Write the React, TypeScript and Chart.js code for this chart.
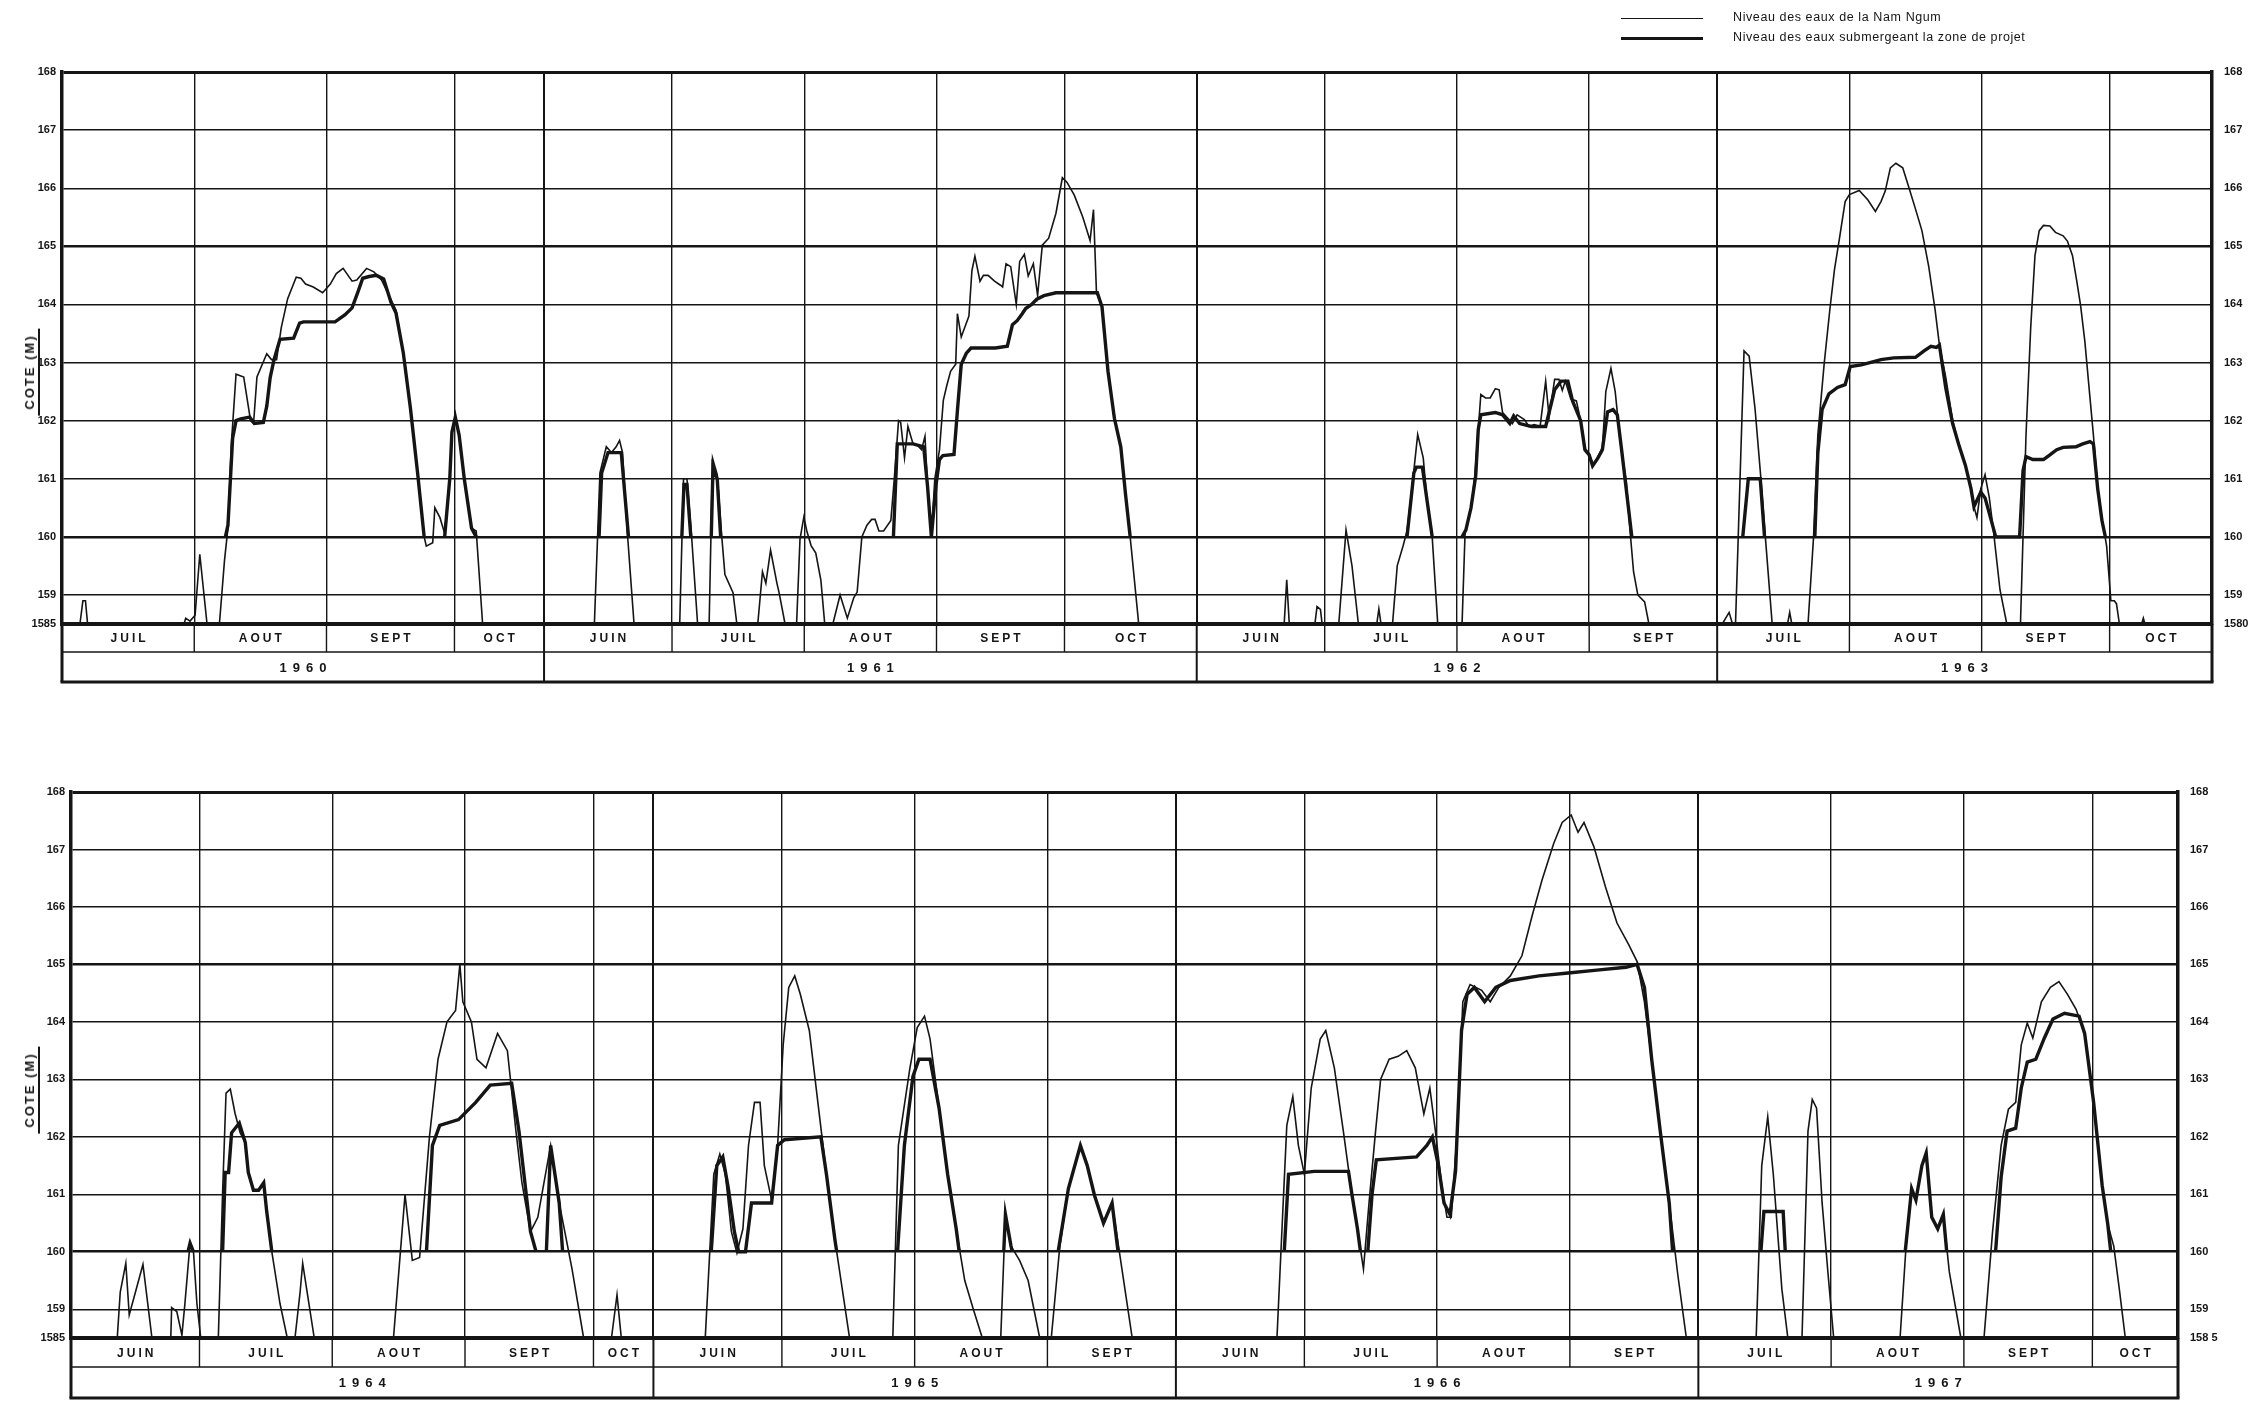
import { useEffect, useRef } from "react";
import { Chart, registerables } from "chart.js";
Chart.register(...registerables);

type P = [number, number] | null;
type M = [string, number];

// ---------- month spans (label, days shown) ----------
const months1960: M[] = [["JUIL", 31], ["AOUT", 31], ["SEPT", 30], ["OCT", 21]];
const months1961: M[] = [["JUIN", 30], ["JUIL", 31], ["AOUT", 31], ["SEPT", 30], ["OCT", 31]];
const months1962: M[] = [["JUIN", 30], ["JUIL", 31], ["AOUT", 31], ["SEPT", 30]];
const months1963: M[] = [["JUIL", 31], ["AOUT", 31], ["SEPT", 30], ["OCT", 24]];
const months1964: M[] = [["JUIN", 30], ["JUIL", 31], ["AOUT", 31], ["SEPT", 30], ["OCT", 14]];
const months1965: M[] = [["JUIN", 30], ["JUIL", 31], ["AOUT", 31], ["SEPT", 30]];
const months1966: M[] = [["JUIN", 30], ["JUIL", 31], ["AOUT", 31], ["SEPT", 30]];
const months1967: M[] = [["JUIL", 31], ["AOUT", 31], ["SEPT", 30], ["OCT", 20]];

// ---------- Niveau des eaux de la Nam Ngum (thin) : [day, cote] ----------
const thin1960: P[] = [[0,158.5],[4.2,158.5],[4.9,158.9],[5.5,158.9],[6.0,158.5],[28.6,158.5],[29.0,158.6],[30.0,158.55],[31.2,158.65],[32.3,159.7],[34.0,158.5],[36.9,158.5],[38.1,159.6],[38.9,160.15],[39.7,161.6],[40.8,162.8],[42.6,162.75],[44.2,162.0],[44.9,161.95],[45.7,162.75],[48.0,163.15],[49.1,163.05],[50.3,163.05],[51.4,163.6],[52.9,164.1],[54.9,164.47],[56.0,164.45],[57.1,164.35],[58.9,164.3],[61.1,164.2],[62.9,164.35],[64.3,164.53],[65.9,164.62],[68.0,164.4],[69.1,164.42],[71.4,164.62],[73.1,164.56],[74.9,164.42],[76.6,164.16],[78.3,163.9],[80.0,163.17],[81.7,162.2],[83.4,161.07],[84.9,160.0],[85.4,159.84],[86.9,159.9],[87.4,160.5],[88.6,160.33],[89.7,160.06],[90.9,161.0],[91.4,161.8],[92.2,162.06],[93.1,161.75],[94.3,161.0],[96.0,160.15],[97.1,160.1],[98.6,158.5]];
const thin1961: P[] = [[0,158.5],[11.8,158.5],[13.1,161.1],[14.6,161.55],[15.8,161.45],[16.9,161.55],[17.7,161.66],[18.4,161.45],[19.5,160.1],[21.1,158.5],[31.8,158.5],[32.7,161.0],[33.5,161.0],[34.5,160.1],[36.0,158.5],[38.7,158.5],[39.5,161.35],[40.6,161.07],[41.5,160.15],[42.4,159.35],[44.3,159.04],[45.2,158.5],[50.1,158.5],[51.2,159.4],[52.0,159.2],[53.1,159.77],[54.6,159.2],[55.1,159.04],[56.5,158.5],[59.2,158.5],[60.0,159.96],[60.9,160.34],[61.6,160.1],[62.6,159.85],[63.7,159.72],[64.9,159.25],[65.8,158.5],[67.7,158.5],[69.4,159.0],[71.1,158.6],[72.6,158.95],[73.4,159.05],[74.5,160.0],[75.7,160.2],[76.8,160.3],[77.6,160.3],[78.5,160.1],[79.6,160.1],[81.3,160.28],[82.1,161.0],[83.1,162.0],[83.6,161.97],[84.5,161.36],[85.3,161.9],[86.5,161.6],[87.6,161.57],[88.5,161.5],[89.3,161.73],[89.9,160.87],[90.8,160.0],[91.6,161.0],[92.7,161.5],[93.6,162.35],[94.4,162.6],[95.3,162.85],[96.5,162.97],[96.9,163.84],[97.8,163.44],[99.6,163.8],[100.3,164.58],[101.0,164.83],[102.2,164.4],[103.0,164.5],[104.1,164.5],[105.6,164.4],[107.0,164.33],[107.5,164.3],[108.3,164.7],[109.4,164.65],[110.7,164.0],[111.5,164.74],[112.6,164.86],[113.5,164.49],[114.7,164.7],[115.7,164.15],[116.8,165.02],[118.3,165.14],[120.0,165.57],[121.5,166.18],[122.6,166.1],[124.3,165.88],[126.3,165.5],[128.0,165.1],[128.8,165.63],[129.5,164.2],[130.8,163.96],[132.2,162.85],[133.7,162.04],[135.2,161.55],[136.3,160.74],[137.4,160.0],[139.4,158.5]];
const thin1962: P[] = [[0,158.5],[20.5,158.5],[21.1,159.26],[21.7,158.5],[27.7,158.5],[28.2,158.8],[29.0,158.75],[29.4,158.5],[33.3,158.5],[35.0,160.12],[36.4,159.5],[37.9,158.5],[42.2,158.5],[42.7,158.76],[43.2,158.5],[45.9,158.5],[47.0,159.5],[48.4,159.85],[49.3,160.1],[50.4,160.8],[51.8,161.76],[53.1,161.36],[54.0,160.62],[55.2,160.0],[56.5,158.5],[62.2,158.5],[62.9,160.06],[64.3,160.5],[65.2,161.05],[66.6,162.45],[67.7,162.39],[68.8,162.39],[70.0,162.55],[70.9,162.53],[71.7,162.14],[73.2,162.02],[74.0,161.95],[75.1,162.1],[76.8,162.02],[77.9,161.9],[79.1,161.93],[80.5,161.9],[81.8,162.68],[82.6,162.06],[83.9,162.71],[84.9,162.71],[85.7,162.52],[86.4,162.68],[87.7,162.37],[89.0,162.34],[90.0,162.0],[91.0,161.5],[91.8,161.44],[93.0,161.25],[94.0,161.37],[95.1,161.54],[95.9,162.5],[97.1,162.9],[98.1,162.5],[99.3,161.63],[100.7,160.95],[101.7,160.0],[102.4,159.4],[103.4,159.0],[105.0,158.88],[106.0,158.5]];
const thin1963: P[] = [[0,158.5],[1.2,158.5],[2.8,158.7],[3.6,158.5],[4.3,158.5],[6.3,163.2],[7.5,163.11],[8.9,162.19],[10.1,161.14],[11.4,159.9],[12.9,158.5],[16.5,158.5],[17.0,158.7],[17.5,158.5],[21.3,158.5],[22.6,160.0],[23.6,161.75],[25.1,162.99],[26.4,163.9],[27.5,164.6],[28.7,165.15],[30.0,165.77],[31.0,165.89],[33.3,165.96],[35.3,165.8],[37.1,165.6],[38.4,165.77],[39.4,165.95],[40.6,166.35],[41.9,166.43],[43.5,166.35],[45.0,166.0],[46.5,165.64],[48.0,165.27],[49.6,164.65],[51.1,163.9],[52.1,163.3],[53.6,162.74],[55.2,162.0],[56.7,161.57],[58.2,161.23],[59.5,160.83],[60.2,160.52],[60.9,160.33],[61.8,160.83],[62.8,161.07],[63.8,160.67],[64.8,160.08],[66.3,159.09],[67.9,158.5],[71.1,158.5],[71.7,160.0],[72.4,161.75],[73.5,163.6],[74.5,164.84],[75.5,165.27],[76.5,165.36],[78.0,165.35],[79.3,165.24],[81.1,165.18],[82.1,165.09],[83.3,164.84],[84.3,164.4],[85.2,163.98],[86.2,163.36],[87.2,162.55],[88.2,161.75],[89.2,160.83],[90.2,160.33],[91.3,159.84],[92.3,158.9],[93.1,158.9],[93.6,158.85],[94.3,158.5],[99.5,158.5],[99.9,158.6],[100.3,158.5]];
const thin1964: P[] = [[0,158.5],[10.8,158.5],[11.5,159.3],[12.8,159.8],[13.6,158.9],[16.8,159.78],[18.9,158.5],[23.3,158.5],[23.5,159.03],[24.7,158.96],[25.9,158.55],[26.6,159.1],[27.8,160.15],[28.6,160.0],[29.4,159.1],[30.3,158.5],[34.4,158.5],[35.4,161.03],[36.2,162.76],[37.2,162.83],[38.3,162.41],[39.5,162.07],[40.7,161.9],[41.4,161.38],[42.6,161.07],[43.8,161.07],[45.0,161.2],[45.7,160.7],[46.9,160.0],[48.8,159.1],[50.5,158.5],[52.3,158.5],[53.5,159.3],[54.1,159.8],[56.8,158.5],[75.3,158.5],[78.0,161.0],[79.7,159.85],[81.4,159.9],[83.7,162.0],[85.7,163.35],[87.8,164.0],[89.8,164.2],[90.8,165.0],[91.5,164.35],[93.5,164.0],[94.8,163.35],[96.9,163.2],[99.6,163.8],[101.9,163.5],[103.9,162.1],[105.3,161.2],[107.3,160.35],[109.0,160.6],[112.0,161.85],[114.0,160.85],[117.0,159.7],[119.7,158.5],[126.2,158.5],[127.5,159.25],[128.5,158.5]];
const thin1965: P[] = [[0,158.5],[12.1,158.5],[14.1,161.35],[15.5,161.7],[16.8,161.35],[18.2,160.35],[19.5,159.98],[20.9,160.4],[22.2,161.85],[23.6,162.6],[24.9,162.6],[25.9,161.5],[27.6,160.9],[29.0,161.85],[30.3,163.6],[31.6,164.6],[33.0,164.8],[34.3,164.48],[36.4,163.85],[38.4,162.6],[40.4,161.35],[42.4,160.2],[44.1,159.35],[45.8,158.5],[55.9,158.5],[57.2,161.85],[58.6,162.55],[59.9,163.2],[61.6,163.9],[63.3,164.1],[64.6,163.7],[66.7,162.5],[68.7,161.35],[70.7,160.4],[72.7,159.5],[74.7,159.0],[76.8,158.5],[81.1,158.5],[82.2,160.65],[83.5,160.1],[85.5,159.85],[87.5,159.5],[90.2,158.5],[92.9,158.5],[94.9,160.1],[96.9,161.1],[99.7,161.85],[101.3,161.5],[103.0,160.98],[105.1,160.5],[107.1,160.85],[109.1,159.85],[111.8,158.5]];
const thin1966: P[] = [[0,158.5],[23.6,158.5],[24.9,160.6],[25.9,162.2],[27.3,162.7],[28.6,161.85],[30.0,161.35],[31.6,162.85],[33.7,163.7],[35.0,163.85],[37.0,163.2],[39.1,162.1],[41.1,161.0],[42.4,160.4],[43.8,159.7],[45.1,160.85],[46.5,162.0],[47.8,163.0],[49.8,163.35],[51.9,163.4],[53.9,163.5],[55.9,163.2],[57.9,162.4],[59.3,162.85],[60.6,162.1],[62.0,161.2],[63.3,160.6],[64.3,160.6],[65.7,162.1],[67.0,164.35],[68.7,164.65],[71.4,164.55],[73.4,164.35],[75.4,164.6],[78.1,164.8],[80.8,165.15],[83.2,165.85],[85.5,166.47],[88.2,167.1],[90.2,167.47],[92.3,167.6],[93.9,167.3],[95.3,167.47],[97.6,167.05],[100.3,166.35],[103.0,165.72],[105.7,165.35],[107.7,165.05],[109.4,164.35],[111.1,163.35],[113.1,162.1],[115.2,160.85],[117.2,159.6],[119.2,158.5]];
const thin1967: P[] = [[0,158.5],[13.5,158.5],[14.8,161.5],[16.2,162.35],[17.5,161.35],[18.5,160.35],[19.5,159.35],[20.9,158.5],[24.2,158.5],[25.6,162.1],[26.6,162.65],[27.6,162.5],[28.9,160.85],[30.3,159.6],[31.6,158.5],[47.1,158.5],[48.5,160.1],[49.8,161.1],[50.8,160.9],[52.2,161.5],[53.2,161.72],[54.5,160.6],[55.9,160.4],[57.2,160.65],[58.6,159.65],[61.3,158.5],[66.7,158.5],[68.7,160.35],[70.7,161.85],[72.4,162.48],[74.1,162.6],[75.4,163.6],[76.8,163.98],[78.1,163.72],[80.1,164.35],[82.2,164.6],[84.2,164.7],[86.2,164.48],[88.2,164.22],[90.2,163.8],[92.3,162.6],[94.3,161.15],[95.6,160.48],[97.0,160.1],[98.3,159.35],[99.7,158.5]];

// ---------- Niveau des eaux submergeant la zone de projet (thick) ----------
const thick1960: P[] = [[38.3,160.0],[38.9,160.2],[40.0,161.7],[40.8,162.0],[41.9,162.03],[44.0,162.06],[45.1,161.95],[47.2,161.97],[48.0,162.25],[48.8,162.74],[49.7,163.05],[51.1,163.4],[54.3,163.42],[55.7,163.68],[56.6,163.7],[64.0,163.7],[66.3,163.82],[68.0,163.94],[69.4,164.22],[70.5,164.45],[72.0,164.48],[73.7,164.5],[75.4,164.44],[77.1,164.04],[78.3,163.85],[80.0,163.17],[81.7,162.2],[83.4,161.07],[84.9,160.0],null,[89.7,160.0],[90.9,161.0],[91.4,161.8],[92.2,162.06],[93.1,161.75],[94.3,161.0],[96.0,160.15],[97.1,160.0]];
const thick1961: P[] = [[12.9,160.0],[13.5,161.1],[15.0,161.45],[18.1,161.45],[19.8,160.0],null,[32.3,160.0],[32.8,160.9],[33.5,160.9],[34.4,160.0],null,[39.2,160.0],[39.6,161.2],[40.6,161.0],[41.4,160.0],null,[81.9,160.0],[82.8,161.6],[86.5,161.6],[89.0,161.55],[89.9,160.87],[90.8,160.0],[91.9,160.9],[92.7,161.33],[93.5,161.4],[96.1,161.42],[96.9,162.17],[97.8,162.97],[99.0,163.16],[100.1,163.25],[105.8,163.25],[108.6,163.28],[109.8,163.65],[110.9,163.72],[112.1,163.84],[112.9,163.93],[114.3,164.0],[115.5,164.09],[117.2,164.15],[120.0,164.2],[129.7,164.2],[130.8,163.96],[132.2,162.85],[133.7,162.04],[135.2,161.55],[136.3,160.74],[137.4,160.0]];
const thick1962: P[] = [[49.3,160.0],[50.9,161.1],[51.5,161.2],[52.9,161.2],[54.0,160.62],[55.2,160.0],null,[62.2,160.0],[63.1,160.12],[64.3,160.5],[65.4,161.05],[66.0,161.85],[66.6,162.1],[70.0,162.14],[71.7,162.1],[73.4,161.95],[74.3,162.08],[75.7,161.95],[77.4,161.92],[78.5,161.9],[81.8,161.9],[83.9,162.53],[85.4,162.68],[87.0,162.68],[88.1,162.34],[90.0,162.0],[91.0,161.5],[92.0,161.41],[92.8,161.22],[94.0,161.35],[95.1,161.5],[96.3,162.15],[97.6,162.19],[98.6,162.1],[99.6,161.5],[101.2,160.5],[102.0,160.0]];
const thick1963: P[] = [[6.0,160.0],[7.3,161.0],[10.1,161.0],[11.1,160.0],null,[22.9,160.0],[23.6,161.44],[24.6,162.19],[26.2,162.46],[28.2,162.57],[30.0,162.62],[31.2,162.93],[33.8,162.96],[35.8,163.0],[38.4,163.05],[41.4,163.08],[46.5,163.09],[48.5,163.2],[50.1,163.28],[51.4,163.26],[52.1,163.3],[53.6,162.56],[55.2,161.95],[56.7,161.57],[58.2,161.23],[59.5,160.83],[60.2,160.52],[61.8,160.77],[62.8,160.67],[64.3,160.27],[65.3,160.0],[70.9,160.0],[71.7,161.14],[72.4,161.38],[74.0,161.33],[76.5,161.33],[78.0,161.41],[79.6,161.5],[81.1,161.54],[84.1,161.55],[85.7,161.6],[87.4,161.64],[88.2,161.6],[89.2,160.83],[90.2,160.28],[91.0,160.0]];
const thick1964: P[] = [[27.3,160.0],[27.8,160.15],[28.6,160.0],null,[35.4,160.0],[36.0,161.38],[36.8,161.38],[37.5,162.07],[39.3,162.24],[40.7,161.9],[41.4,161.38],[42.6,161.07],[43.8,161.07],[45.0,161.2],[45.7,160.7],[46.9,160.0],null,[83.0,160.0],[84.4,161.85],[86.1,162.2],[90.5,162.3],[94.5,162.6],[97.9,162.9],[102.9,162.93],[104.6,162.1],[107.3,160.35],[108.6,160.0],null,[111.0,160.0],[112.0,161.85],[114.0,160.85],[114.8,160.0]];
const thick1965: P[] = [[13.5,160.0],[14.8,161.5],[16.2,161.65],[17.5,161.1],[18.9,160.35],[19.9,160.0],[21.5,160.0],[22.9,160.85],[27.6,160.85],[29.0,161.85],[30.6,161.95],[39.1,162.0],[40.4,161.35],[42.4,160.2],[42.8,160.0],null,[57.0,160.0],[58.6,161.85],[60.6,163.05],[62.0,163.35],[64.6,163.35],[66.7,162.5],[68.7,161.35],[70.7,160.4],[71.4,160.0],null,[81.8,160.0],[82.2,160.65],[83.5,160.1],[83.8,160.0],null,[94.5,160.0],[96.9,161.1],[99.7,161.85],[101.3,161.5],[103.0,160.98],[105.1,160.5],[107.1,160.85],[108.5,160.0]];
const thick1966: P[] = [[25.3,160.0],[26.3,161.35],[32.3,161.4],[40.3,161.4],[41.1,161.0],[42.4,160.4],[43.1,160.0],null,[44.8,160.0],[45.8,161.0],[46.8,161.6],[56.2,161.65],[58.6,161.85],[59.9,162.0],[61.3,161.5],[62.6,160.85],[64.0,160.65],[65.3,161.4],[66.7,163.85],[68.0,164.48],[69.7,164.6],[72.1,164.35],[74.7,164.6],[78.1,164.72],[84.8,164.8],[91.6,164.85],[98.3,164.9],[105.1,164.95],[107.7,165.0],[109.4,164.6],[111.1,163.35],[113.1,162.1],[115.2,160.85],[116.0,160.0]];
const thick1967: P[] = [[14.6,160.0],[15.3,160.7],[19.8,160.7],[20.3,160.0],null,[48.3,160.0],[49.8,161.1],[50.8,160.9],[52.2,161.5],[53.2,161.72],[54.5,160.6],[55.9,160.4],[57.2,160.65],[58.0,160.0],null,[69.4,160.0],[70.7,161.3],[72.1,162.1],[74.1,162.15],[75.4,162.85],[76.8,163.3],[78.8,163.35],[80.8,163.72],[82.8,164.05],[85.5,164.15],[88.9,164.1],[90.2,163.8],[92.3,162.6],[94.3,161.15],[95.6,160.48],[96.3,160.0]];

// ---------- axis ----------
const yTickValues = [158.5, 159, 160, 161, 162, 163, 164, 165, 166, 167, 168];
const leftBottomLabel = "1585";
const rightBottomLabelTop = "1580";
const rightBottomLabelBottom = "158 5";
const legendThin = "Niveau des eaux de la Nam Ngum";
const legendThick = "Niveau des eaux submergeant la zone de projet";
const axisTitle = "COTE (M)";

type YearDef = { year: string; months: M[]; thin: P[]; thick: P[] };
const topYears: YearDef[] = [
  { year: "1960", months: months1960, thin: thin1960, thick: thick1960 },
  { year: "1961", months: months1961, thin: thin1961, thick: thick1961 },
  { year: "1962", months: months1962, thin: thin1962, thick: thick1962 },
  { year: "1963", months: months1963, thin: thin1963, thick: thick1963 },
];
const bottomYears: YearDef[] = [
  { year: "1964", months: months1964, thin: thin1964, thick: thick1964 },
  { year: "1965", months: months1965, thin: thin1965, thick: thick1965 },
  { year: "1966", months: months1966, thin: thin1966, thick: thick1966 },
  { year: "1967", months: months1967, thin: thin1967, thick: thick1967 },
];

const INK = "#151515";
const FONT = '"Liberation Sans", Arial, sans-serif';

type PanelCfg = {
  years: YearDef[];
  width: number;
  height: number;
  top: number;
  bottom: number;
  left: number;
  right: number;
  monthBand: number;
  yearBand: number;
  rightLow: string;
};

function toPoints(series: P[], offset: number) {
  const out: { x: number; y: number | null }[] = [];
  let last = 0;
  for (const p of series) {
    if (p === null) {
      out.push({ x: offset + last, y: null });
      continue;
    }
    last = p[0];
    out.push({ x: offset + p[0], y: p[1] });
  }
  out.push({ x: offset + last, y: null });
  return out;
}

function makeChart(canvas: HTMLCanvasElement, cfg: PanelCfg) {
  let acc = 0;
  const bounds: number[] = [0];
  const yearBounds = new Set<number>([0]);
  const monthLabels: { label: string; a: number; b: number }[] = [];
  const yearLabels: { label: string; a: number; b: number }[] = [];
  const thin: { x: number; y: number | null }[] = [];
  const thick: { x: number; y: number | null }[] = [];
  cfg.years.forEach((y) => {
    const start = acc;
    thin.push(...toPoints(y.thin, start));
    thick.push(...toPoints(y.thick, start));
    y.months.forEach(([lab, days]) => {
      monthLabels.push({ label: lab, a: acc, b: acc + days });
      acc += days;
      bounds.push(acc);
    });
    yearBounds.add(acc);
    yearLabels.push({ label: y.year, a: start, b: acc });
  });
  const total = acc;

  const bandPlugin = {
    id: "bands",
    afterDraw(chart: any) {
      const { ctx, chartArea } = chart;
      const xs = chart.scales.x;
      const b = chartArea.bottom;
      const mB = b + cfg.monthBand;
      const yB = mB + cfg.yearBand;
      ctx.save();
      ctx.strokeStyle = INK;
      ctx.fillStyle = INK;
      // band horizontal lines
      ctx.lineWidth = 1.6;
      ctx.beginPath();
      ctx.moveTo(chartArea.left, mB);
      ctx.lineTo(chartArea.right, mB);
      ctx.stroke();
      ctx.lineWidth = 3;
      ctx.beginPath();
      ctx.moveTo(chartArea.left - 1.5, yB);
      ctx.lineTo(chartArea.right + 1.5, yB);
      ctx.stroke();
      // separators
      bounds.forEach((v) => {
        const px = xs.getPixelForValue(v);
        const isYear = yearBounds.has(v);
        const edge = v === 0 || v === total;
        ctx.lineWidth = edge ? 3 : isYear ? 2 : 1.4;
        ctx.beginPath();
        ctx.moveTo(px, b);
        ctx.lineTo(px, isYear ? yB : mB);
        ctx.stroke();
      });
      // labels
      ctx.textAlign = "center";
      ctx.textBaseline = "middle";
      ctx.font = `bold 12px ${FONT}`;
      (ctx as any).letterSpacing = "3px";
      monthLabels.forEach((m) => {
        const px = (xs.getPixelForValue(m.a) + xs.getPixelForValue(m.b)) / 2;
        ctx.fillText(m.label, px + 1.5, b + cfg.monthBand / 2 + 1);
      });
      ctx.font = `bold 13px ${FONT}`;
      (ctx as any).letterSpacing = "6px";
      yearLabels.forEach((m) => {
        const px = (xs.getPixelForValue(m.a) + xs.getPixelForValue(m.b)) / 2;
        ctx.fillText(m.label, px + 3, mB + cfg.yearBand / 2 + 1);
      });
      ctx.restore();
    },
  };

  const gridWidth = (v: number) =>
    v === 168 || v === 158.5 ? 3 : v === 160 || v === 165 ? 2.6 : 1.4;

  return new Chart(canvas, {
    type: "line",
    data: {
      datasets: [
        {
          label: legendThin,
          data: thin as any,
          borderColor: INK,
          borderWidth: 1.6,
          pointRadius: 0,
          tension: 0,
          spanGaps: false,
        },
        {
          label: legendThick,
          data: thick as any,
          borderColor: INK,
          borderWidth: 3.4,
          pointRadius: 0,
          tension: 0,
          spanGaps: false,
        },
      ],
    },
    options: {
      animation: false,
      responsive: false,
      devicePixelRatio: 1,
      events: [],
      layout: { padding: { top: cfg.top, left: 0, right: 0, bottom: 0 } },
      plugins: { legend: { display: false }, tooltip: { enabled: false } },
      scales: {
        x: {
          type: "linear",
          min: 0,
          max: total,
          afterBuildTicks: (s: any) => {
            s.ticks = bounds.map((v) => ({ value: v }));
          },
          afterFit: (s: any) => {
            s.height = cfg.height - cfg.bottom;
          },
          ticks: { display: false },
          grid: {
            color: INK,
            drawTicks: false,
            lineWidth: (c: any) => (yearBounds.has(c.tick?.value) ? 2 : 1.4),
          },
          border: { display: true, color: INK, width: 3.5 },
        },
        y: {
          type: "linear",
          position: "left",
          min: 158.5,
          max: 168,
          afterBuildTicks: (s: any) => {
            s.ticks = yTickValues.map((v) => ({ value: v }));
          },
          afterFit: (s: any) => {
            s.width = cfg.left;
          },
          ticks: {
            autoSkip: false,
            padding: 6,
            color: INK,
            font: { family: FONT, size: 11, weight: "bold" },
            callback: (v: any) => (v === 158.5 ? leftBottomLabel : String(v)),
          },
          grid: {
            color: INK,
            drawTicks: false,
            lineWidth: (c: any) => gridWidth(c.tick?.value),
          },
          border: { display: true, color: INK, width: 3.5 },
        },
        y2: {
          type: "linear",
          position: "right",
          min: 158.5,
          max: 168,
          afterBuildTicks: (s: any) => {
            s.ticks = yTickValues.map((v) => ({ value: v }));
          },
          afterFit: (s: any) => {
            s.width = cfg.width - cfg.right;
          },
          ticks: {
            autoSkip: false,
            padding: 4,
            color: INK,
            font: { family: FONT, size: 11, weight: "bold" },
            callback: (v: any) => (v === 158.5 ? cfg.rightLow : String(v)),
          },
          grid: { display: false, drawOnChartArea: false },
          border: { display: true, color: INK, width: 3.5 },
        },
      },
    } as any,
    plugins: [bandPlugin],
  });
}

const topCfg: PanelCfg = {
  years: topYears,
  width: 2260,
  height: 700,
  top: 72,
  bottom: 624,
  left: 62,
  right: 2212,
  monthBand: 28,
  yearBand: 30,
  rightLow: rightBottomLabelTop,
};
const bottomCfg: PanelCfg = {
  years: bottomYears,
  width: 2260,
  height: 705,
  top: 92,
  bottom: 638,
  left: 71,
  right: 2178,
  monthBand: 29,
  yearBand: 31,
  rightLow: rightBottomLabelBottom,
};

export default function App() {
  const topRef = useRef<HTMLCanvasElement>(null);
  const botRef = useRef<HTMLCanvasElement>(null);
  useEffect(() => {
    const c1 = makeChart(topRef.current!, topCfg);
    const c2 = makeChart(botRef.current!, bottomCfg);
    return () => {
      c1.destroy();
      c2.destroy();
    };
  }, []);

  const titleStyle = (cy: number): React.CSSProperties => ({
    position: "absolute",
    left: 31,
    top: cy,
    transform: "translate(-50%, -50%) rotate(-90deg)",
    font: `bold 13px ${FONT}`,
    letterSpacing: "2px",
    color: INK,
    whiteSpace: "nowrap",
    borderBottom: `2px solid ${INK}`,
    padding: "0 6px 1px 6px",
  });

  return (
    <div
      style={{
        position: "absolute",
        left: 0,
        top: 0,
        width: 2260,
        height: 1405,
        background: "#fff",
        overflow: "hidden",
      }}
    >
      <canvas
        ref={topRef}
        width={2260}
        height={700}
        style={{ position: "absolute", left: 0, top: 0, width: 2260, height: 700 }}
      />
      <canvas
        ref={botRef}
        width={2260}
        height={705}
        style={{ position: "absolute", left: 0, top: 700, width: 2260, height: 705 }}
      />
      <div style={titleStyle(372)}>{axisTitle}</div>
      <div style={titleStyle(1090)}>{axisTitle}</div>
      <div style={{ position: "absolute", left: 1621, top: 18, width: 82, height: 0, borderTop: `1.5px solid ${INK}` }} />
      <div style={{ position: "absolute", left: 1621, top: 37, width: 82, height: 0, borderTop: `3px solid ${INK}` }} />
      <div style={{ position: "absolute", left: 1733, top: 10, font: `12.5px ${FONT}`, letterSpacing: "0.6px", color: INK, whiteSpace: "nowrap" }}>
        {legendThin}
      </div>
      <div style={{ position: "absolute", left: 1733, top: 30, font: `12.5px ${FONT}`, letterSpacing: "0.6px", color: INK, whiteSpace: "nowrap" }}>
        {legendThick}
      </div>
    </div>
  );
}
